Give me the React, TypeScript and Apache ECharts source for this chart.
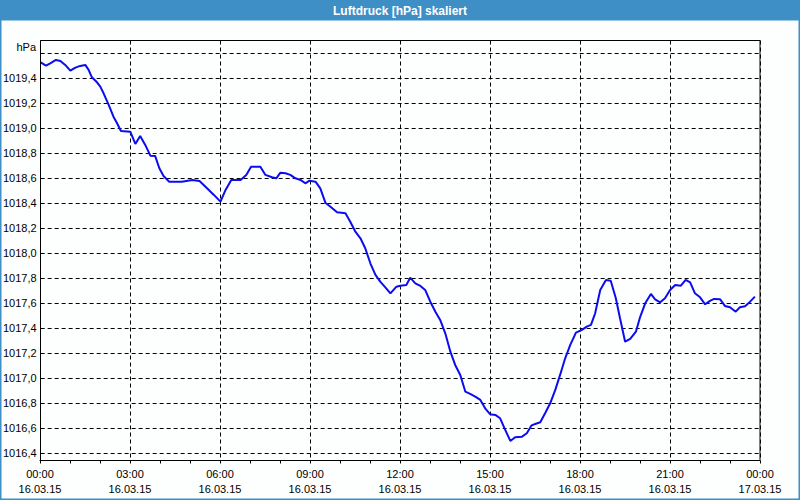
import React, { useEffect, useRef } from "react";
import * as echarts from "echarts";

const titleText = "Luftdruck [hPa] skaliert";
const unitLabel = "hPa";

const xTickLabels = [
  "00:00\n16.03.15",
  "03:00\n16.03.15",
  "06:00\n16.03.15",
  "09:00\n16.03.15",
  "12:00\n16.03.15",
  "15:00\n16.03.15",
  "18:00\n16.03.15",
  "21:00\n16.03.15",
  "00:00\n17.03.15",
];

// hours since 16.03.15 00:00
const hours = [
  0.0, 0.18, 0.32, 0.51, 0.66, 0.82, 0.99, 1.16, 1.32, 1.49, 1.6, 1.71, 1.88, 1.99, 2.1, 2.27, 2.43,
  2.54, 2.68, 2.99, 3.16, 3.32, 3.49, 3.66, 3.82, 3.96, 4.1, 4.29, 4.71, 5.06, 5.3, 5.5, 5.78, 6.0,
  6.17, 6.36, 6.67, 6.86, 7.02, 7.33, 7.5, 7.72, 7.86, 8.0, 8.17, 8.33, 8.5, 8.67, 8.83, 8.97, 9.17,
  9.33, 9.5, 9.67, 9.89, 10.17, 10.33, 10.5, 10.67, 10.83, 11.0, 11.17, 11.33, 11.5, 11.67, 11.87,
  12.0, 12.2, 12.33, 12.5, 12.67, 12.83, 13.0, 13.17, 13.33, 13.5, 13.67, 13.83, 14.0, 14.17, 14.33,
  14.5, 14.67, 14.83, 15.0, 15.17, 15.33, 15.5, 15.67, 15.83, 16.06, 16.22, 16.37, 16.5, 16.67, 16.83,
  17.0, 17.17, 17.33, 17.5, 17.67, 17.86, 18.06, 18.22, 18.36, 18.5, 18.67, 18.86, 19.02, 19.19,
  19.33, 19.5, 19.67, 19.86, 20.0, 20.17, 20.36, 20.5, 20.67, 20.83, 21.0, 21.17, 21.36, 21.52, 21.67,
  21.83, 22.0, 22.17, 22.33, 22.47, 22.67, 22.83, 23.0, 23.19, 23.33, 23.5, 23.67, 23.83,
];

const pressure = [
  1019.528, 1019.501, 1019.52, 1019.547, 1019.539, 1019.507, 1019.461, 1019.485, 1019.499, 1019.507,
  1019.467, 1019.408, 1019.368, 1019.333, 1019.28, 1019.187, 1019.093, 1019.045, 1018.979, 1018.973,
  1018.875, 1018.939, 1018.867, 1018.781, 1018.779, 1018.68, 1018.619, 1018.573, 1018.573, 1018.587,
  1018.579, 1018.533, 1018.467, 1018.413, 1018.507, 1018.587, 1018.587, 1018.627, 1018.693, 1018.693,
  1018.627, 1018.608, 1018.6, 1018.645, 1018.64, 1018.627, 1018.6, 1018.587, 1018.56, 1018.581,
  1018.573, 1018.52, 1018.405, 1018.373, 1018.328, 1018.32, 1018.253, 1018.173, 1018.12, 1018.04,
  1017.92, 1017.827, 1017.773, 1017.728, 1017.68, 1017.733, 1017.741, 1017.747, 1017.805, 1017.76,
  1017.739, 1017.707, 1017.613, 1017.533, 1017.467, 1017.36, 1017.213, 1017.107, 1017.027, 1016.893,
  1016.875, 1016.853, 1016.827, 1016.76, 1016.712, 1016.707, 1016.68, 1016.587, 1016.499, 1016.528,
  1016.533, 1016.56, 1016.621, 1016.635, 1016.648, 1016.72, 1016.8, 1016.907, 1017.027, 1017.16,
  1017.267, 1017.365, 1017.387, 1017.413, 1017.427, 1017.52, 1017.707, 1017.787, 1017.781, 1017.64,
  1017.48, 1017.293, 1017.315, 1017.373, 1017.49, 1017.6, 1017.675, 1017.632, 1017.608, 1017.64,
  1017.707, 1017.747, 1017.741, 1017.787, 1017.768, 1017.68, 1017.648, 1017.592, 1017.619, 1017.635,
  1017.632, 1017.579, 1017.568, 1017.533, 1017.568, 1017.576, 1017.613, 1017.653,
];

const FONT = "'Liberation Sans', Arial, sans-serif";

export default function App() {
  const ref = useRef<HTMLDivElement>(null);

  useEffect(() => {
    if (!ref.current) return;
    const chart = echarts.init(ref.current, undefined, { renderer: "svg" });
    const dash = [4, 3];
    const plotL = 40, plotR = 760, plotT = 40.5, plotB = 460.5;

    chart.setOption({
      animation: false,
      backgroundColor: "#fdfefe",
      textStyle: { fontFamily: FONT },
      grid: [
        { left: plotL, right: 800 - plotR, top: plotT, bottom: 500 - plotB, containLabel: false },
        { left: plotL, right: 800 - plotR, top: 53.3, bottom: 500 - 453.3, containLabel: false },
      ],
      xAxis: [
        {
          gridIndex: 0,
          type: "value",
          min: 0,
          max: 24,
          interval: 3,
          axisLine: { show: true, lineStyle: { color: "#000", width: 1 } },
          axisTick: { show: true, length: 3, lineStyle: { color: "#000" } },
          minorTick: { show: true, splitNumber: 3, length: 3, lineStyle: { color: "#000" } },
          splitLine: { show: true, lineStyle: { color: "#000", type: dash, width: 1 } },
          axisLabel: {
            color: "#000",
            fontSize: 11,
            fontFamily: FONT,
            lineHeight: 15,
            margin: 6,
            showMinLabel: true,
            showMaxLabel: true,
            formatter: (v: number) => xTickLabels[Math.round(v / 3)] ?? "",
          },
        },
        {
          gridIndex: 1,
          type: "value",
          min: 0,
          max: 24,
          show: false,
          splitLine: { show: false },
        },
      ],
      yAxis: [
        {
          gridIndex: 0,
          type: "value",
          min: 0,
          max: 1,
          show: false,
          splitLine: { show: false },
        },
        {
          gridIndex: 1,
          type: "value",
          min: 1016.4,
          max: 1019.6,
          interval: 0.2,
          axisLine: { show: false },
          axisTick: { show: false },
          splitLine: { show: true, lineStyle: { color: "#000", type: dash, width: 1 } },
          axisLabel: {
            color: "#000",
            fontSize: 11,
            fontFamily: FONT,
            margin: 4,
            formatter: (v: number) =>
              Math.abs(v - 1019.6) < 1e-6 ? "" : v.toFixed(1).replace(".", ","),
          },
        },
      ],
      series: [
        {
          type: "line",
          xAxisIndex: 1,
          yAxisIndex: 1,
          data: hours.map((h, i) => [h, pressure[i]]),
          showSymbol: false,
          symbol: "none",
          smooth: false,
          lineStyle: { color: "#0c0cf0", width: 2 },
          z: 5,
        },
      ],
      graphic: [
        {
          type: "rect",
          shape: { x: 0, y: 0, width: 800, height: 20.5 },
          style: { fill: "#3d8fc6" },
          z: 10,
        },
        {
          type: "rect",
          shape: { x: 0, y: 0, width: 800, height: 500 },
          style: { fill: "none", stroke: "#3d8fc6", lineWidth: 3 },
          z: 10,
        },
        {
          type: "text",
          x: 400,
          y: 10.5,
          style: {
            text: titleText,
            fill: "#ffffff",
            font: `bold 12px ${FONT}`,
            textAlign: "center",
            textVerticalAlign: "middle",
          },
          z: 11,
        },
        {
          type: "rect",
          shape: { x: plotL + 0.5, y: plotT, width: plotR - plotL - 0.5, height: plotB - plotT },
          style: { fill: "none", stroke: "#000", lineWidth: 1 },
          z: 10,
        },
        {
          type: "text",
          x: 36,
          y: 46.5,
          style: {
            text: unitLabel,
            fill: "#000",
            font: `11px ${FONT}`,
            textAlign: "right",
            textVerticalAlign: "middle",
          },
          z: 10,
        },
      ],
    });

    return () => chart.dispose();
  }, []);

  return (
    <div
      ref={ref}
      style={{ position: "fixed", left: 0, top: 0, width: 800, height: 500 }}
    />
  );
}
